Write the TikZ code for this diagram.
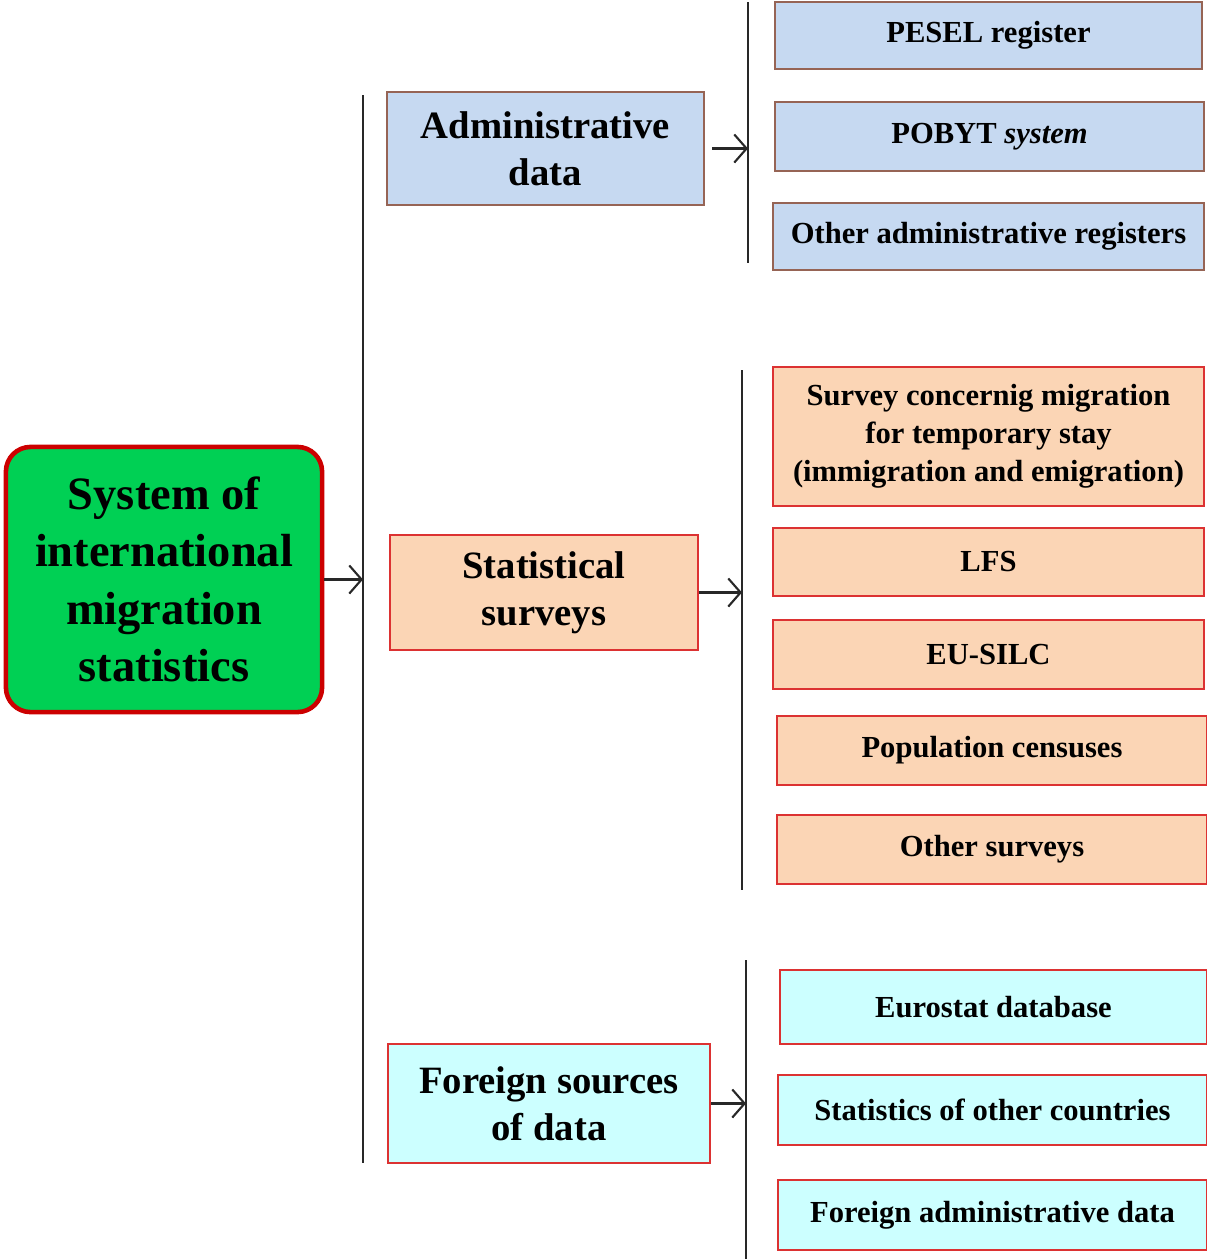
\documentclass[tikz,border=0pt]{standalone}
\usepackage{fontspec}
\setmainfont{Liberation Serif}
\usetikzlibrary{positioning,arrows.meta}

\definecolor{mainfill}{RGB}{0,208,84}
\definecolor{mainedge}{RGB}{204,0,0}
\definecolor{admfill}{RGB}{198,217,241}
\definecolor{admedge}{RGB}{150,100,85}
\definecolor{statfill}{RGB}{251,213,181}
\definecolor{statedge}{RGB}{220,50,50}
\definecolor{forfill}{RGB}{204,255,255}
\definecolor{lineclr}{RGB}{40,40,40}

\begin{document}
\begin{tikzpicture}[
		x=0.01cm,y=-0.01cm,
		box/.style={
			draw,
			rectangle,
			line width=0.6pt,
			inner sep=0pt,
			align=center,
		},
		group/.style={
			box,
			font=\fontsize{11}{13.5}\selectfont\bfseries,
		},
		item/.style={
			box,
			font=\fontsize{8.7}{10.8}\selectfont\bfseries,
		},
		adm/.style={fill=admfill,draw=admedge},
		stat/.style={fill=statfill,draw=statedge},
		forn/.style={fill=forfill,draw=statedge},
		link/.style={->,draw=lineclr,line width=0.6pt},
		bar/.style={draw=lineclr,line width=0.6pt},
		>={Straight Barb[length=3.5pt,width=8pt]}
		]
		\useasboundingbox (0,0) rectangle (1207,1259);
		% Draw the main node
		\node [draw=mainedge,fill=mainfill,line width=1.3pt,rounded corners=7pt,
			minimum width=3.16cm,minimum height=2.65cm,align=center,
			font=\fontsize{13.2}{16.3}\selectfont\bfseries] (system) at (164,579.5)
			{System of\\international\\migration\\statistics};
		% Draw the trunk
		\coordinate (trunktop) at (363,95);
		\coordinate (trunkbot) at (363,1163);
		\draw[bar] (trunktop) -- (trunkbot);
		\draw[link] (system.east) -- (system.east -| trunktop);
		% Draw the three groups
		\node [group,adm,minimum width=3.17cm,minimum height=1.13cm] (admin) at (545.5,148.5) {Administrative\\data};
		\node [group,stat,minimum width=3.08cm,minimum height=1.15cm] (surveys) at (544,592.5) {Statistical\\surveys};
		\node [group,forn,minimum width=3.22cm,minimum height=1.19cm] (foreign) at (549,1103.5) {Foreign sources\\of data};
		% Draw the bars next to the groups
		\coordinate (admtop) at (748,2);
		\coordinate (admbot) at (748,263);
		\coordinate (stattop) at (742,370);
		\coordinate (statbot) at (742,890);
		\coordinate (fortop) at (746,960);
		\coordinate (forbot) at (746,1259);
		\draw[bar] (admtop) -- (admbot);
		\draw[bar] (stattop) -- (statbot);
		\draw[bar] (fortop) -- (forbot);
		\draw[link,shorten <=2pt] (admin.east) -- (admin.east -| admtop);
		\draw[link] (surveys.east) -- (surveys.east -| stattop);
		\draw[link] (foreign.east) -- (foreign.east -| fortop);
		% Draw the administrative sources
		\node [item,adm,minimum width=4.27cm,minimum height=0.67cm] (pesel) at (988.5,35.5) {PESEL register};
		\node [item,adm,minimum width=4.29cm,minimum height=0.69cm] (pobyt) at (989.5,136.5) {POBYT \textit{system}};
		\node [item,adm,minimum width=4.31cm,minimum height=0.67cm] (otheradm) at (988.5,236.5) {Other administrative registers};
		% Draw the statistical surveys
		\node [item,stat,minimum width=4.31cm,minimum height=1.39cm] (migsurvey) at (988.5,436.5) {Survey concernig migration\\for temporary stay\\(immigration and emigration)};
		\node [item,stat,minimum width=4.31cm,minimum height=0.68cm] (lfs) at (988.5,562) {LFS};
		\node [item,stat,minimum width=4.31cm,minimum height=0.69cm] (silc) at (988.5,654.5) {EU-SILC};
		\node [item,stat,minimum width=4.30cm,minimum height=0.69cm] (census) at (992,750.5) {Population censuses};
		\node [item,stat,minimum width=4.30cm,minimum height=0.69cm] (othersurv) at (992,849.5) {Other surveys};
		% Draw the foreign sources
		\node [item,forn,minimum width=4.27cm,minimum height=0.74cm] (eurostat) at (993.5,1007) {Eurostat database};
		\node [item,forn,minimum width=4.29cm,minimum height=0.70cm] (othercountries) at (992.5,1110) {Statistics of other countries};
		\node [item,forn,minimum width=4.29cm,minimum height=0.70cm] (foreignadm) at (992.5,1215) {Foreign administrative data};
	\end{tikzpicture}
\end{document}
